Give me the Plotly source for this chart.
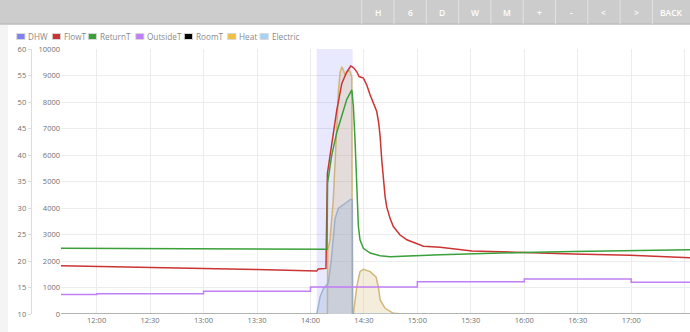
import plotly.graph_objects as go

DAY = "2024-01-15 "
X_START, X_END = "11:40:00", "17:33:00"

# ---------------- data ----------------
dhw_time = ["11:40:00", "14:03:30", "14:23:42", "17:33:00"]
dhw_on = [0, 1, 0, 0]

flow_time = ["11:40:00", "12:00:00", "12:30:00", "13:00:00", "13:30:00", "14:03:30", "14:04:24",
             "14:08:42", "14:09:30", "14:11:54", "14:13:48", "14:14:48", "14:17:36", "14:20:24",
             "14:22:36", "14:24:06", "14:26:00", "14:27:18", "14:29:42", "14:31:36", "14:33:30",
             "14:35:18", "14:37:12", "14:38:18", "14:39:06", "14:40:00", "14:40:54", "14:41:54",
             "14:42:48", "14:44:42", "14:46:30", "14:50:18", "14:54:06", "15:03:24", "15:12:48",
             "15:30:36", "15:59:24", "16:27:24", "16:59:24", "17:33:00"]
flow_temp = [19.1, 19.0, 18.8, 18.6, 18.4, 18.1, 18.5,
             18.6, 36.5, 42.2, 45.8, 48.5, 53.5, 55.7,
             56.8, 56.5, 55.7, 54.8, 54.5, 53.2, 51.3,
             49.8, 48.2, 46.0, 43.5, 39.1, 35.3, 32.1,
             30.2, 28.0, 26.5, 24.9, 24.0, 22.8, 22.6,
             21.9, 21.6, 21.3, 21.1, 20.6]

return_time = ["11:40:00", "13:00:00", "14:09:18", "14:09:36", "14:11:54", "14:14:48", "14:17:36",
               "14:20:24", "14:23:12", "14:24:06", "14:25:00", "14:25:36", "14:26:18", "14:26:54",
               "14:27:48", "14:29:42", "14:33:30", "14:39:06", "14:44:42", "15:12:48", "15:59:24",
               "16:27:24", "17:33:00"]
return_temp = [22.4, 22.3, 22.2, 34.7, 39.9, 44.3, 47.6,
               50.5, 52.3, 49.1, 42.8, 36.5, 30.2, 26.5,
               24.0, 22.4, 21.5, 21.0, 20.8, 21.2, 21.6,
               21.8, 22.1]

outside_time = ["11:40:00", "12:00:00", "13:00:00", "14:00:00", "15:00:00", "16:00:00", "17:00:00", "17:33:00"]
outside_temp = [13.7, 13.8, 14.3, 15.1, 16.1, 16.6, 16.0, 16.0]

room_time = []
room_temp = []

heat_time = ["11:40:00", "14:09:30", "14:09:42", "14:11:00", "14:12:48", "14:13:48", "14:14:48",
             "14:15:42", "14:16:36", "14:17:36", "14:18:30", "14:19:24", "14:20:54", "14:21:54",
             "14:23:12", "14:23:30", "14:24:06", "14:25:00", "14:26:00", "14:27:48", "14:29:42",
             "14:33:30", "14:36:48", "14:38:06", "14:39:06", "14:41:54", "14:46:30", "14:52:00",
             "17:33:00"]
heat_power = [0, 0, 2400, 2800, 4300, 5600, 7400,
              8400, 9100, 9330, 9200, 9020, 9150, 9200,
              8950, 0, 0, 400, 1030, 1600, 1690,
              1600, 1400, 1030, 530, 215, 25, 0,
              0]

elec_time = ["11:40:00", "14:03:30", "14:04:24", "14:05:24", "14:07:12", "14:09:06", "14:10:00",
             "14:11:36", "14:12:48", "14:13:48", "14:15:42", "14:19:24", "14:22:36", "14:23:30",
             "14:23:42", "17:33:00"]
elec_power = [0, 0, 300, 650, 950, 1100, 1170,
              2000, 3050, 3600, 3990, 4180, 4330, 4300,
              0, 0]

series_names = ["DHW", "FlowT", "ReturnT", "OutsideT", "RoomT", "Heat", "Electric"]
series_colors = ["#7f7ff2", "#cc3333", "#3aa03a", "#c07ff5", "#000000", "#f0c040", "#a8d2f4"]

temp_ticks = [10, 15, 20, 25, 30, 35, 40, 45, 50, 55, 60]
power_ticks = [0, 1000, 2000, 3000, 4000, 5000, 6000, 7000, 8000, 9000, 10000]
buttons = ["H", "6", "D", "W", "M", "+", "-", "<", ">", "BACK"]

# ---------------- layout constants (pixels) ----------------
W, H = 690, 332
PX_LEFT, PX_TOP, PX_BOTTOM = 61, 49, 314
FONT = "Open Sans"


def t(lst):
    return [DAY + s for s in lst]


def px(x):
    return x / W


def py(y):
    return 1 - y / H


fig = go.Figure()

# DHW band (base axis, drawn first)
fig.add_trace(go.Scatter(x=t(dhw_time), y=dhw_on, yaxis="y", mode="lines", line_shape="hv",
                         line=dict(width=0), fill="tozeroy", fillcolor="rgba(0,0,240,0.09)",
                         name="DHW", hoverinfo="skip"))
# Power series
fig.add_trace(go.Scatter(x=t(heat_time), y=heat_power, yaxis="y2", mode="lines",
                         line=dict(color="rgba(205,175,110,0.9)", width=1.5),
                         fill="tozeroy", fillcolor="rgba(220,190,125,0.28)", name="Heat"))
fig.add_trace(go.Scatter(x=t(elec_time), y=elec_power, yaxis="y2", mode="lines",
                         line=dict(color="rgba(140,165,195,0.75)", width=1.5),
                         fill="tozeroy", fillcolor="rgba(150,180,215,0.32)", name="Electric"))
# Temperature series
fig.add_trace(go.Scatter(x=t(flow_time), y=flow_temp, yaxis="y3", mode="lines",
                         line=dict(color=series_colors[1], width=1.5), name="FlowT"))
fig.add_trace(go.Scatter(x=t(return_time), y=return_temp, yaxis="y3", mode="lines",
                         line=dict(color=series_colors[2], width=1.5), name="ReturnT"))
fig.add_trace(go.Scatter(x=t(outside_time), y=outside_temp, yaxis="y3", mode="lines", line_shape="hv",
                         line=dict(color=series_colors[3], width=1.5), name="OutsideT"))
fig.add_trace(go.Scatter(x=t(room_time), y=room_temp, yaxis="y3", mode="lines",
                         line=dict(color=series_colors[4], width=1.5), name="RoomT"))

shapes = []
annotations = []

# top bar
shapes.append(dict(type="rect", xref="paper", yref="paper", x0=0, x1=1, y0=py(24), y1=1,
                   fillcolor="#cccccc", line=dict(width=0), layer="above"))
shapes.append(dict(type="line", xref="paper", yref="paper", x0=0, x1=1, y0=py(24), y1=py(24),
                   line=dict(color="#bdbdbd", width=1.5), layer="above"))
# left page strip
shapes.append(dict(type="rect", xref="paper", yref="paper", x0=0, x1=px(8), y0=0, y1=py(24.5),
                   fillcolor="#f4f4f4", line=dict(width=0), layer="below"))

# buttons
bx = 361.7
bw = 32.3
for i, lab in enumerate(buttons):
    x0 = bx + i * bw
    x1 = x0 + bw if lab != "BACK" else W
    shapes.append(dict(type="line", xref="paper", yref="paper", x0=px(x0), x1=px(x0),
                       y0=py(24), y1=1, line=dict(color="#e2e2e2", width=1), layer="above"))
    annotations.append(dict(xref="paper", yref="paper", x=px((x0 + x1) / 2), y=py(12), text=lab,
                            showarrow=False, xanchor="center", yanchor="middle",
                            font=dict(family=FONT, size=8.5, color="#ffffff", weight=600)))

# legend (compact, like the original)
legend_x = [16.7, 52.3, 88.3, 135.7, 184.3, 227.7, 260.0]
for name, col, lx in zip(series_names, series_colors, legend_x):
    shapes.append(dict(type="rect", xref="paper", yref="paper", x0=px(lx), x1=px(lx + 8.3),
                       y0=py(39.5), y1=py(33.5), fillcolor=col,
                       line=dict(color="#d8d8d8", width=1), layer="above"))
    annotations.append(dict(xref="paper", yref="paper", x=px(lx + 9.5), y=py(36.8), text=name,
                            showarrow=False, xanchor="left", yanchor="middle",
                            font=dict(family=FONT, size=8.2, color="#8a8a8a")))

tickfont = dict(family=FONT, size=7.5, color="#707070")
ydom = [py(PX_BOTTOM), py(PX_TOP)]

fig.update_layout(
    width=W, height=H, margin=dict(l=0, r=0, t=0, b=0),
    paper_bgcolor="white", plot_bgcolor="white", template="none",
    showlegend=False, shapes=shapes, annotations=annotations,
    xaxis=dict(domain=[px(PX_LEFT), 1], type="date", range=[DAY + X_START, DAY + X_END],
               tick0=DAY + "12:00:00", dtick=30 * 60 * 1000, tickformat="%H:%M",
               showgrid=True, gridcolor="#ececec", gridwidth=1, showline=False, zeroline=False,
               ticks="", tickfont=tickfont, fixedrange=True),
    yaxis=dict(domain=ydom, range=[0, 1], visible=False, showgrid=False, fixedrange=True),
    yaxis2=dict(overlaying="y", anchor="x", side="left", range=[0, 10000],
                tickvals=power_ticks, ticktext=[str(v) for v in power_ticks],
                showgrid=True, gridcolor="#ececec", zeroline=False,
                showline=False, ticks="", tickfont=tickfont, fixedrange=True),
    yaxis3=dict(overlaying="y", anchor="free", position=px(30.7), side="left", range=[10, 60],
                tickvals=temp_ticks, ticktext=[str(v) for v in temp_ticks],
                showgrid=False, zeroline=False, showline=True,
                linecolor="#dddddd", linewidth=1, ticks="outside", ticklen=3, tickcolor="#dddddd",
                tickfont=tickfont, fixedrange=True),
)

fig.write_html("out.html")
